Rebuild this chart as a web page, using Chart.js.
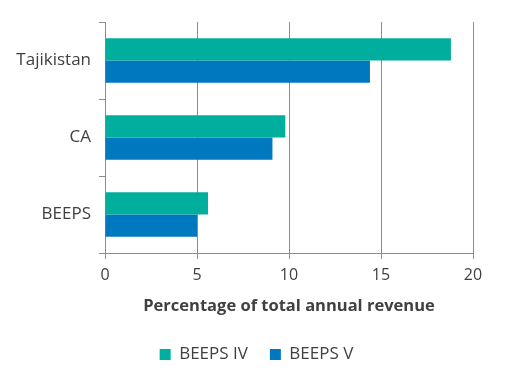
<!DOCTYPE html>
<html>
<head>
<meta charset="utf-8">
<script src="https://cdn.jsdelivr.net/npm/chart.js@4/dist/chart.umd.min.js"></script>
<style>
html,body{margin:0;padding:0;background:#fff;}
#wrap{width:508px;height:384px;}
</style>
</head>
<body>
<div id="wrap"><canvas id="chart"></canvas></div>
<script>
// categories + series
const categories=["Tajikistan","CA","BEEPS"];
const beepsIV=[18.8,9.8,5.6];
const beepsV=[14.4,9.1,5.0];
const seriesNames=["BEEPS IV","BEEPS V"];
const xTicks=[0,5,10,15,20];

const gridCol="#8c8c8c";
const textCol="#404040";
const fontFam="'Open Sans', 'Liberation Sans', sans-serif";

// nudge legend to the right (reference legend is centred on the page)
const legendShift={
    id:"legendShift",
    afterLayout(c){ c.legend.left+=20; c.legend.right+=20; }
};

new Chart(document.getElementById("chart"),{
    type:"bar",
    data:{
        labels:categories,
        datasets:[
            {label:seriesNames[0],data:beepsIV,backgroundColor:"#00ae9d",categoryPercentage:0.58,barPercentage:1},
            {label:seriesNames[1],data:beepsV,backgroundColor:"#0078c0",categoryPercentage:0.58,barPercentage:1}
        ]
    },
    options:{
        indexAxis:"y",
        responsive:true,
        maintainAspectRatio:false,
        animation:false,
        layout:{padding:{top:22,right:35,left:0,bottom:11}},
        plugins:{
            legend:{
                position:"bottom",
                labels:{
                    boxWidth:11,boxHeight:11,
                    color:textCol,
                    font:{family:fontFam,size:17},
                    padding:22
                }
            },
            tooltip:{enabled:false}
        },
        scales:{
            x:{
                min:xTicks[0],max:xTicks[xTicks.length-1],
                afterBuildTicks:ax=>{ax.ticks=xTicks.map(v=>({value:v}));},
                grid:{color:gridCol,tickLength:6,lineWidth:1},
                border:{color:gridCol},
                ticks:{color:textCol,font:{family:fontFam,size:16},padding:7},
                title:{display:true,text:"Percentage of total annual revenue",color:textCol,
                    font:{family:fontFam,size:16.5,weight:"bold"},padding:{top:4,bottom:8}}
            },
            y:{
                afterFit:ax=>{ax.width=105;},
                grid:{drawOnChartArea:false,color:gridCol,tickLength:6},
                border:{color:gridCol},
                ticks:{color:textCol,font:{family:fontFam,size:17},padding:8}
            }
        }
    },
    plugins:[legendShift]
});
</script>
</body>
</html>
